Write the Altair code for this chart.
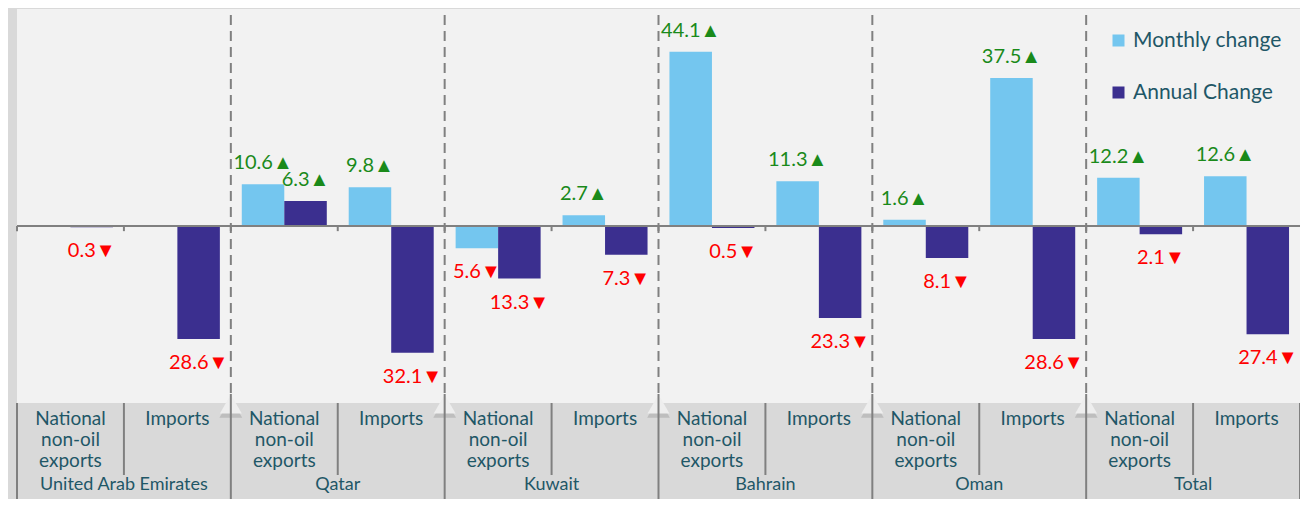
import altair as alt
import pandas as pd

countries = ["United Arab Emirates", "Qatar", "Kuwait", "Bahrain", "Oman", "Total"]
flow_names = ["National non-oil exports", "Imports"]
flow_labels = ["National\nnon-oil\nexports", "Imports"]
series_names = ["Monthly change", "Annual Change"]
series_colors = ["#74c6ef", "#3b2f8f"]
monthly_change = [None, None, 10.6, 9.8, -5.6, 2.7, 44.1, 11.3, 1.6, 37.5, 12.2, 12.6]
annual_change = [-0.3, -28.6, 6.3, -32.1, -13.3, -7.3, -0.5, -23.3, -8.1, -28.6, -2.1, -27.4]

sub_keys = [f"{c} | {f}" for c in countries for f in flow_names]

rows = []
for k, key in enumerate(sub_keys):
    for s, vals in zip(series_names, [monthly_change, annual_change]):
        v = vals[k]
        if v is None:
            continue
        rows.append({"sub": key, "series": s, "value": v,
                     "label": f"{abs(v):.1f}" + ("▲" if v >= 0 else "▼")})
bar_df = pd.DataFrame(rows)

sub_df = pd.DataFrame({
    "sub": sub_keys,
    "country": [c for c in countries for _ in flow_names],
    "flow": flow_names * len(countries),
    "flow_label": flow_labels * len(countries),
})
first_df = sub_df[sub_df["flow"] == flow_names[0]]
second_df = sub_df[sub_df["flow"] == flow_names[1]]
inner_first = first_df.iloc[1:]
last_df = sub_df.iloc[[-1]]
zero_df = pd.DataFrame({"value": [0.0]})

TEXT = "#1f5767"
LINE = "#808080"
FONT = "Lato"
BAR_W = 42.5
OFFS = [-BAR_W / 2, BAR_W / 2]


def X(bp=None):
    kw = {} if bp is None else {"bandPosition": bp}
    return alt.X("sub:N", sort=sub_keys, axis=None,
                 scale=alt.Scale(paddingInner=0, paddingOuter=0), **kw)


def Y(field="value"):
    return alt.Y(f"{field}:Q", axis=None,
                 scale=alt.Scale(domain=[-44.81, 54.94], nice=False, zero=False))


color = alt.Color("series:N", sort=series_names,
                  scale=alt.Scale(domain=series_names, range=series_colors),
                  legend=alt.Legend(title=None, orient="none", legendX=1091, legendY=21,
                                    symbolType="square", symbolSize=144, symbolStrokeWidth=0,
                                    labelFontSize=21, labelColor=TEXT, labelFont=FONT,
                                    rowPadding=30, labelOffset=4))

layers = []
for s, off in zip(series_names, OFFS):
    base = alt.Chart(bar_df).transform_filter(alt.datum.series == s)
    layers.append(base.mark_bar(width=BAR_W, xOffset=off).encode(x=X(), y=Y(), color=color))

zero = alt.Chart(zero_df).mark_rule(color=LINE, strokeWidth=2).encode(y=Y())

ticks = alt.Chart(sub_df).transform_calculate(z0="0", z1="-1.3").mark_rule(
    color=LINE, strokeWidth=2).encode(x=X(0), y=Y("z0"), y2="z1:Q")

dashed = alt.Chart(inner_first).mark_rule(color=LINE, strokeWidth=2, strokeDash=[10, 6]).encode(
    x=X(0), y=alt.value(6), y2=alt.value(384))

tri_shadow = alt.Chart(inner_first).mark_point(
    shape="triangle-up", filled=True, color="#a8a8a8", opacity=0.55, size=520).encode(
    x=X(0), y=alt.value(399))
tri = alt.Chart(inner_first).mark_point(
    shape="triangle-up", filled=True, color="#eeeeee", opacity=1, size=480).encode(
    x=X(0), y=alt.value(395))

label_layers = []
for s, off in zip(series_names, OFFS):
    base = alt.Chart(bar_df).transform_filter(alt.datum.series == s)
    label_layers.append(base.transform_filter("datum.value >= 0").mark_text(
        fontSize=20, color="#1a8a1a", baseline="middle", dy=-21, xOffset=off, font=FONT).encode(
        x=X(), y=Y(), text="label:N"))
    label_layers.append(base.transform_filter("datum.value < 0").mark_text(
        fontSize=20, color="#ff0000", baseline="middle", dy=24, xOffset=off, font=FONT).encode(
        x=X(), y=Y(), text="label:N"))

sep_short = alt.Chart(second_df).mark_rule(color=LINE, strokeWidth=2).encode(
    x=X(0), y=alt.value(394), y2=alt.value(466))
sep_inner = alt.Chart(inner_first).mark_rule(color=LINE, strokeWidth=2).encode(
    x=X(0), y=alt.value(385), y2=alt.value(490))
sep_left = alt.Chart(first_df.iloc[[0]]).mark_rule(color=LINE, strokeWidth=2).encode(
    x=X(0), y=alt.value(394), y2=alt.value(490))
sep_right = alt.Chart(last_df).mark_rule(color=LINE, strokeWidth=2).encode(
    x=X(1), y=alt.value(394), y2=alt.value(490))

flow_text = alt.Chart(sub_df).mark_text(
    baseline="top", lineBreak="\n", lineHeight=21, fontSize=19, color=TEXT, font=FONT).encode(
    x=X(), y=alt.value(401), text="flow_label:N")

country_text = alt.Chart(second_df).mark_text(
    baseline="middle", fontSize=18, color=TEXT, font=FONT).encode(
    x=X(0), y=alt.value(476), text="country:N")

chart = alt.layer(
    *layers, zero, ticks, dashed, tri_shadow, tri, *label_layers,
    sep_short, sep_inner, sep_left, sep_right, flow_text, country_text,
).properties(
    width=1283, height=394,
    autosize=alt.AutoSizeParams(type="none"),
    padding={"left": 9, "top": 1, "right": 0, "bottom": 96},
).configure(
    background="#d9d9d9", font=FONT,
).configure_view(fill="#f2f2f2", stroke=None)

chart.save("out.html", embed_options={"renderer": "svg", "actions": False})
